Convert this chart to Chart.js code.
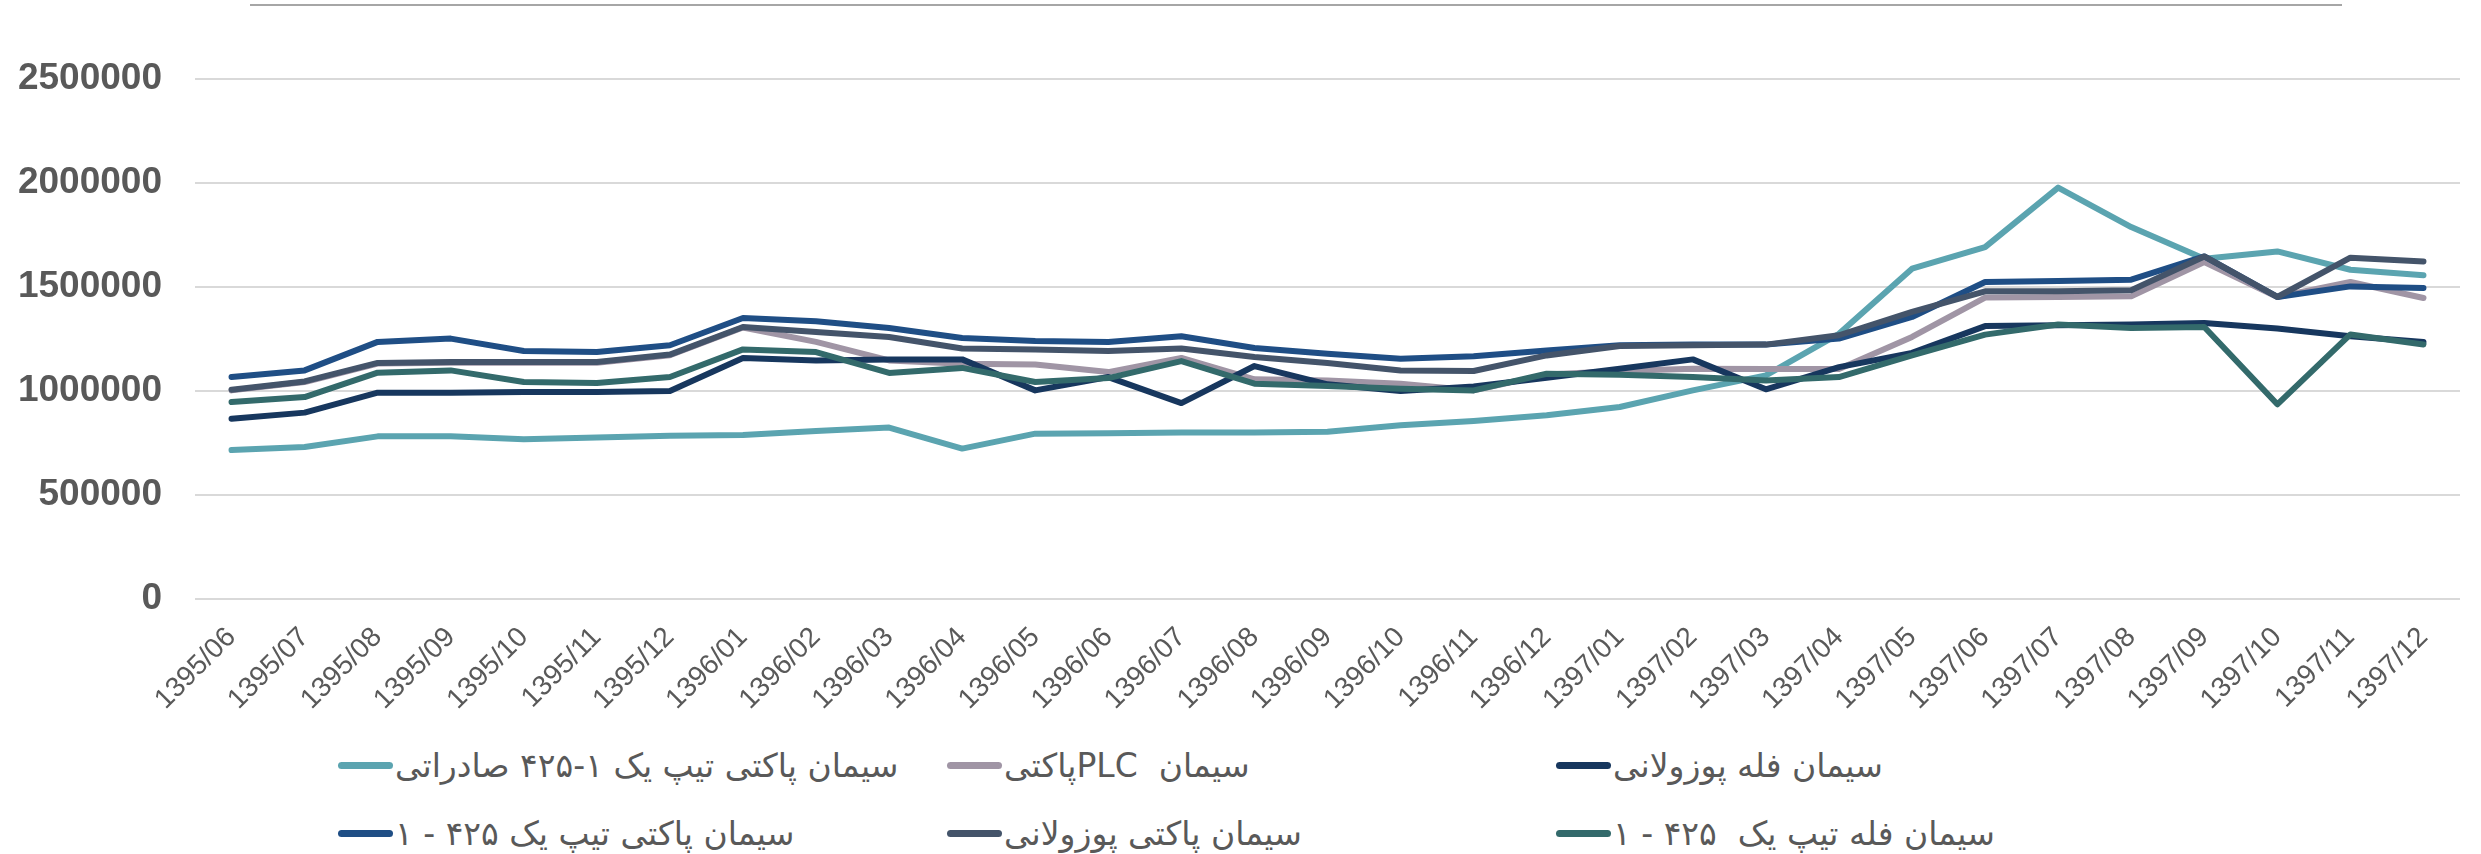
<!DOCTYPE html>
<html>
<head>
<meta charset="utf-8">
<script src="https://cdn.jsdelivr.net/npm/chart.js@4/dist/chart.umd.min.js"></script>
<style>
  html, body { margin: 0; padding: 0; background: #fff; }
  body { width: 2481px; height: 854px; position: relative; overflow: hidden; }
  #topRule { position: absolute; left: 250px; top: 4px; width: 2092px; height: 2px; background: #a6a6a6; }
  #wrap { position: absolute; left: 0; top: 0; width: 2481px; height: 720px; }
  #legend {
    position: absolute; left: 338px; top: 742px;
    display: grid; grid-template-columns: 609px 609px 609px; grid-auto-rows: 68px;
    font-family: "DejaVu Sans", "Noto Sans", sans-serif; font-size: 33px; color: #595959;
  }
  .item { display: flex; align-items: center; height: 46px; }
  .swatch { width: 55px; height: 7px; border-radius: 4px; flex: none; }
  .label { direction: rtl; unicode-bidi: embed; white-space: pre; margin-left: 2px; }
</style>
</head>
<body>
<div id="topRule"></div>
<div id="wrap"><canvas id="chart" width="2481" height="720"></canvas></div>
<div id="legend"></div>
<script>
const months = [
  '1395/06', '1395/07', '1395/08', '1395/09', '1395/10', '1395/11', '1395/12',
  '1396/01', '1396/02', '1396/03', '1396/04', '1396/05', '1396/06', '1396/07',
  '1396/08', '1396/09', '1396/10', '1396/11', '1396/12',
  '1397/01', '1397/02', '1397/03', '1397/04', '1397/05', '1397/06', '1397/07',
  '1397/08', '1397/09', '1397/10', '1397/11', '1397/12'
];

const seriesNames = [
  'سیمان پاکتی تیپ یک ۱-۴۲۵ صادراتی',
  'سیمان  PLCپاکتی',
  'سیمان فله پوزولانی',
  'سیمان پاکتی تیپ یک ۴۲۵ - ۱',
  'سیمان پاکتی پوزولانی',
  'سیمان فله تیپ یک  ۴۲۵ - ۱'
];

const seriesColors = ['#5ba4b0', '#a095a5', '#17375e', '#1f4e85', '#44546a', '#336a6b'];

// monthly prices
const exportBag = [716000, 731000, 782000, 782000, 768000, 776000, 785000, 788000, 808000, 824000,
  723000, 795000, 797000, 800000, 801000, 804000, 835000, 856000, 883000, 923000,
  1003000, 1075000, 1275000, 1588000, 1692000, 1978000, 1788000, 1636000, 1671000, 1583000, 1556000];
const plcBag = [1003000, 1043000, 1132000, 1136000, 1136000, 1136000, 1172000, 1305000, 1236000, 1147000,
  1131000, 1127000, 1091000, 1159000, 1056000, 1051000, 1035000, 1003000, 1079000, 1096000,
  1107000, 1106000, 1106000, 1260000, 1449000, 1452000, 1455000, 1620000, 1452000, 1524000, 1447000];
const pozzolanBulk = [867000, 896000, 992000, 992000, 995000, 995000, 1000000, 1159000, 1147000, 1152000,
  1152000, 1003000, 1067000, 942000, 1120000, 1032000, 1000000, 1022000, 1064000, 1107000,
  1152000, 1008000, 1115000, 1183000, 1312000, 1316000, 1320000, 1327000, 1300000, 1263000, 1236000];
const type1Bag = [1067000, 1099000, 1236000, 1252000, 1192000, 1187000, 1220000, 1351000, 1335000, 1303000,
  1255000, 1240000, 1236000, 1263000, 1207000, 1179000, 1155000, 1167000, 1195000, 1220000,
  1223000, 1223000, 1252000, 1356000, 1524000, 1529000, 1535000, 1647000, 1452000, 1503000, 1495000];
const pozzolanBag = [1006000, 1046000, 1135000, 1139000, 1139000, 1139000, 1175000, 1308000, 1284000, 1260000,
  1204000, 1199000, 1192000, 1204000, 1163000, 1135000, 1099000, 1096000, 1171000, 1216000,
  1220000, 1223000, 1268000, 1380000, 1479000, 1479000, 1484000, 1647000, 1452000, 1641000, 1623000];
const type1Bulk = [947000, 971000, 1088000, 1099000, 1043000, 1038000, 1067000, 1200000, 1187000, 1087000,
  1111000, 1043000, 1062000, 1144000, 1035000, 1024000, 1011000, 1003000, 1083000, 1078000,
  1067000, 1051000, 1067000, 1171000, 1271000, 1320000, 1303000, 1308000, 936000, 1272000, 1224000];

const yTicks = [0, 500000, 1000000, 1500000, 2000000, 2500000];

const seriesValues = [exportBag, plcBag, pozzolanBulk, type1Bag, pozzolanBag, type1Bulk];

const datasets = seriesValues.map((values, i) => ({
  label: seriesNames[i],
  data: values,
  borderColor: seriesColors[i],
  backgroundColor: seriesColors[i],
  borderWidth: 6,
  borderCapStyle: 'round',
  borderJoinStyle: 'round',
  pointRadius: 0,
  tension: 0,
  order: seriesValues.length - 1 - i // later series sit on top
}));

new Chart(document.getElementById('chart'), {
  type: 'line',
  data: { labels: months, datasets: datasets },
  options: {
    responsive: false,
    devicePixelRatio: 1,
    animation: false,
    layout: { padding: { top: 79, right: 21, left: 0, bottom: 0 } },
    plugins: { legend: { display: false }, tooltip: { enabled: false } },
    scales: {
      x: {
        offset: true,
        grid: { display: false },
        border: { display: false },
        ticks: {
          autoSkip: false,
          minRotation: 45,
          maxRotation: 45,
          padding: 14,
          color: '#595959',
          font: { family: '"Liberation Sans", Arial, sans-serif', size: 28 }
        },
        afterFit: scale => { scale.height = 121; }
      },
      y: {
        min: 0,
        max: 2500000,
        afterBuildTicks: scale => { scale.ticks = yTicks.map(v => ({ value: v })); },
        grid: { color: '#d9d9d9', lineWidth: 2, drawTicks: false },
        border: { display: false },
        ticks: {
          padding: 33,
          color: '#595959',
          font: { family: '"Liberation Sans", Arial, sans-serif', size: 37, weight: 'bold' },
          callback: v => String(v)
        },
        afterFit: scale => { scale.width = 195; }
      }
    }
  }
});

const legend = document.getElementById('legend');
datasets.forEach(ds => {
  const item = document.createElement('div');
  item.className = 'item';
  const swatch = document.createElement('span');
  swatch.className = 'swatch';
  swatch.style.background = ds.borderColor;
  const label = document.createElement('span');
  label.className = 'label';
  label.textContent = ds.label;
  item.appendChild(swatch);
  item.appendChild(label);
  legend.appendChild(item);
});
</script>
</body>
</html>
